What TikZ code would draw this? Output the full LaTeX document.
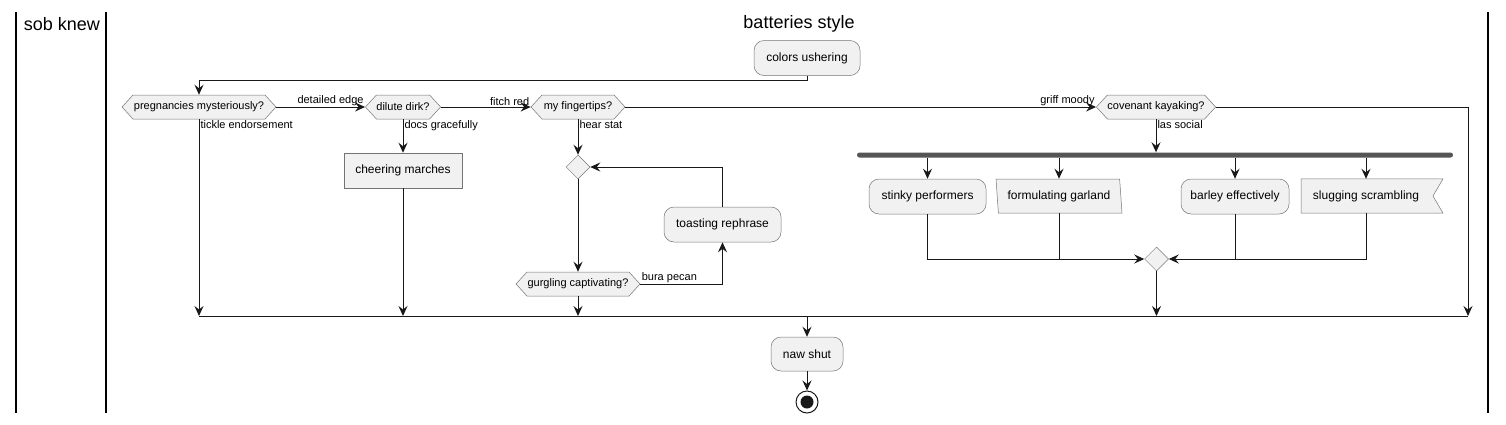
\documentclass[tikz,border=0pt]{standalone}
\usepackage{fontspec}
\setmainfont{Liberation Sans}
\usetikzlibrary{shapes.symbols,shapes.geometric,arrows.meta,backgrounds,calc}
\definecolor{boxfill}{HTML}{F1F1F1}
\definecolor{boxline}{HTML}{181818}
\definecolor{barcol}{HTML}{555555}
\tikzset{
 act/.style={draw=boxline!60, line width=0.5pt, fill=boxfill, rounded corners=10pt, minimum height=35pt, font=\fontsize{12}{14}\selectfont, inner sep=0pt},
 plainbox/.style={draw=boxline!60, line width=0.5pt, fill=boxfill, minimum height=35pt, font=\fontsize{12}{14}\selectfont, inner sep=0pt},
 hexa/.style={shape=signal, signal to=west and east, signal pointer angle=95, draw=boxline!60, line width=0.5pt, fill=boxfill, minimum height=24pt, font=\fontsize{11}{13}\selectfont, inner sep=0pt},
 dia/.style={diamond, draw=boxline!60, line width=0.5pt, fill=boxfill, minimum width=24pt, minimum height=24pt, inner sep=0pt},
 conn/.style={draw=boxline, line width=1pt},
 arr/.style={conn, -{Stealth[length=10pt,width=9pt,inset=3.5pt]}},
 elabel/.style={font=\fontsize{11}{13}\selectfont, inner sep=1pt},
 lanetitle/.style={font=\fontsize{18}{21}\selectfont, inner sep=0pt},
 lane/.style={line width=1.5pt, draw=black}
}
\begin{document}
\begin{tikzpicture}[x=1pt,y=-1pt]
\useasboundingbox (0,0) rectangle (1506,424);
% swimlanes
\draw[lane] (16,12) -- (16,413);
\draw[lane] (106,12) -- (106,413);
\draw[lane] (1488,12) -- (1488,413);
\node[lanetitle] (t1) at (62,24) {sob knew};
\node[lanetitle] (t2) at (799,24) {batteries style};
% nodes
\node[act, minimum width=106pt] (cu) at (807,58) {colors ushering};
\node[hexa, minimum width=154pt] (pm) at (199,107) {pregnancies mysteriously?};
\node[hexa, minimum width=74pt] (dd) at (403,107) {dilute dirk?};
\node[hexa, minimum width=94pt] (mf) at (578,107) {my fingertips?};
\node[hexa, minimum width=119pt] (ck) at (1156,107) {covenant kayaking?};
\node[plainbox, minimum width=118pt] (cm) at (403,170.5) {cheering marches};
\node[dia] (d1) at (578,167) {};
\node[hexa, minimum width=124pt] (gc) at (578,284) {gurgling captivating?};
\node[act, minimum width=117pt] (tr) at (722.5,224.5) {toasting rephrase};
\node[fill=barcol, rounded corners=2.5pt, minimum width=596pt, minimum height=5pt, inner sep=0pt] (bar) at (1155,155) {};
\node[act, minimum width=117pt] (sp) at (927.5,196.5) {stinky performers};
\node[trapezium, trapezium left angle=102, trapezium right angle=78, trapezium stretches body, draw=boxline!60, line width=0.5pt, fill=boxfill, minimum width=126pt, minimum height=34pt, inner sep=0pt, font=\fontsize{12}{14}\selectfont] (fg) at (1059,196) {formulating garland};
\node[act, minimum width=108pt] (be) at (1235,196.5) {barley effectively};
\node[minimum width=130pt, minimum height=34pt, inner sep=0pt, font=\fontsize{12}{14}\selectfont] (ss) at (1366,196) {slugging scrambling};
\begin{scope}[on background layer]
\draw[draw=boxline!60, line width=0.5pt, fill=boxfill] ([xshift=-65pt]ss.north) -- ([xshift=77pt]ss.north) -- ([xshift=67pt]ss.center) -- ([xshift=77pt]ss.south) -- ([xshift=-65pt]ss.south) -- cycle;
\end{scope}
\node[dia] (d2) at (1156.5,259) {};
\node[act, minimum width=72pt, minimum height=34pt] (ns) at (807,354) {naw shut};
\node[circle, draw=boxline, line width=1pt, minimum size=22pt, inner sep=0pt] (endo) at (807,402) {};
\node[circle, fill=boxline, minimum size=13pt, inner sep=0pt] (endi) at (807,402) {};
% merge coordinates
\coordinate (j1) at (199,316);
\coordinate (j2) at (1468,316);
\coordinate (jc) at (807,316);
% connectors
\draw[arr] (cu.south) -- (cu.south |- 0,80) -| (pm.north);
\draw[arr] (pm.east) -- node[elabel, anchor=south east, pos=1] {detailed edge} (dd.west);
\draw[arr] (dd.east) -- node[elabel, anchor=south east, pos=1] {fitch red} (mf.west);
\draw[arr] (mf.east) -- node[elabel, anchor=south east, pos=1] {griff moody} (ck.west);
\draw[arr] (pm.south) -- node[elabel, anchor=north west, pos=0] {tickle endorsement} (pm.south |- j1);
\draw[arr] (dd.south) -- node[elabel, anchor=north west, pos=0] {docs gracefully} (cm.north);
\draw[arr] (cm.south) -- (cm.south |- j1);
\draw[arr] (mf.south) -- node[elabel, anchor=north west, pos=0] {hear stat} (d1.north);
\draw[arr] (d1.south) -- (gc.north);
\draw[arr] (gc.south) -- (gc.south |- j1);
\draw[arr] (gc.east) -| node[elabel, anchor=south west, pos=0] {bura pecan} (tr.south);
\draw[arr] (tr.north) |- (d1.east);
\draw[arr] (ck.south) -- node[elabel, anchor=north west, pos=0] {las social} (ck.south |- bar.north);
\draw[arr] (sp.north |- bar.south) -- (sp.north);
\draw[arr] (fg.north |- bar.south) -- (fg.north);
\draw[arr] (be.north |- bar.south) -- (be.north);
\draw[arr] (ss.north |- bar.south) -- (ss.north);
\draw[arr] (sp.south) |- (d2.west);
\draw[conn] (fg.south) -- (fg.south |- d2.west);
\draw[arr] (ss.south) |- (d2.east);
\draw[conn] (be.south) -- (be.south |- d2.east);
\draw[arr] (d2.south) -- (d2.south |- j1);
\draw[arr] (ck.east) -| (j2);
\draw[conn] (j1) -- (j2);
\draw[arr] (jc) -- (ns.north);
\draw[arr] (ns.south) -- (endo.north);
\end{tikzpicture}
\end{document}
